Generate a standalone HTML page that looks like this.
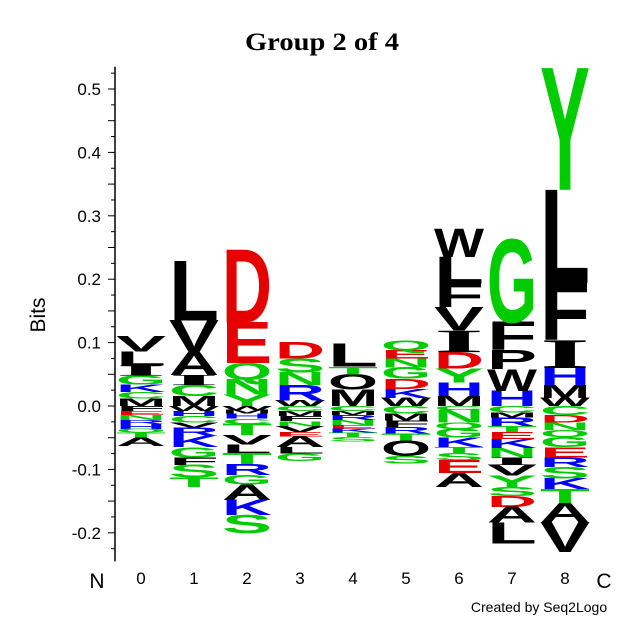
<!DOCTYPE html>
<html><head><meta charset="utf-8"><style>
html,body{margin:0;padding:0;background:#fff}
svg{display:block}
</style></head><body>
<svg id="chart" width="640" height="640" viewBox="0 0 640 640" xmlns="http://www.w3.org/2000/svg">
<text x="245" y="50" textLength="154" lengthAdjust="spacingAndGlyphs" font-family="Liberation Serif, serif" font-weight="bold" font-size="25">Group 2 of 4</text>
<text transform="translate(45,315) rotate(-90)" text-anchor="middle" font-family="Liberation Sans, sans-serif" font-size="21">Bits</text>
<text x="97" y="588" text-anchor="middle" font-family="Liberation Sans, sans-serif" font-size="21">N</text>
<text x="604" y="588" text-anchor="middle" font-family="Liberation Sans, sans-serif" font-size="21">C</text>
<text x="539" y="612" text-anchor="middle" font-family="Liberation Sans, sans-serif" font-size="14">Created by Seq2Logo</text>
<g id="axis"></g>
<g id="logo"></g>
<g id="xlabels"></g>
</svg>
<script>
const positions = ["0","1","2","3","4","5","6","7","8"];
const yTicks = [0.5,0.4,0.3,0.2,0.1,0.0,-0.1,-0.2];
// positive stacks: letters from zero upward, heights in bits
const posLetters = [
 ["M","C","K","G","I","L","V"],
 ["M","C","I","A","V","L"],
 ["Y","N","Q","E","D"],
 ["W","R","N","S","D"],
 ["M","O","T","L"],
 ["W","K","D","G","N","E","Q"],
 ["M","H","Y","D","I","V","F","L","W"],
 ["H","W","P","F","G"],
 ["W","M","H","I","F","L","Y"]
];
const posHeights = [
 [0.012,0.010,0.012,0.014,0.016,0.022,0.024],
 [0.016,0.017,0.016,0.036,0.050,0.094],
 [0.018,0.024,0.026,0.064,0.115],
 [0.009,0.024,0.020,0.022,0.026],
 [0.026,0.024,0.012,0.036],
 [0.013,0.014,0.016,0.018,0.014,0.013,0.015],
 [0.016,0.021,0.022,0.026,0.034,0.037,0.037,0.042,0.044],
 [0.024,0.034,0.030,0.044,0.130],
 [0.013,0.020,0.027,0.044,0.090,0.147,0.192]
];
// negative stacks: letters from zero downward
const negLetters = [
 ["F","E","N","R","H","Q","T","A"],
 ["W","H","C","V","R","K","G","F","S","T"],
 ["W","M","H","C","T","V","L","T","R","G","A","K","S"],
 ["C","M","F","N","V","E","A","L","G"],
 ["C","M","R","N","E","K","T","S"],
 ["C","M","F","R","T","O","S"],
 ["C","N","Q","G","K","T","S","E","A"],
 ["C","M","R","T","E","K","N","I","V","Y","S","D","A","L"],
 ["C","D","N","Q","G","E","R","S","K","T","A","V"]
];
const negHeights = [
 [0.008,0.006,0.008,0.006,0.008,0.006,0.008,0.013],
 [0.008,0.008,0.010,0.008,0.013,0.018,0.016,0.012,0.020,0.015],
 [0.006,0.006,0.008,0.008,0.018,0.015,0.013,0.018,0.017,0.015,0.024,0.024,0.028],
 [0.008,0.008,0.008,0.008,0.009,0.007,0.017,0.010,0.012],
 [0.008,0.006,0.008,0.008,0.006,0.006,0.007,0.007],
 [0.012,0.011,0.010,0.010,0.012,0.024,0.012],
 [0.006,0.020,0.010,0.014,0.015,0.009,0.012,0.020,0.022],
 [0.010,0.008,0.014,0.009,0.011,0.014,0.015,0.012,0.017,0.018,0.014,0.017,0.025,0.033],
 [0.014,0.012,0.012,0.011,0.016,0.016,0.015,0.018,0.017,0.022,0.030,0.047]
];
const colorOf = {D:"#e60000",E:"#e60000",K:"#0000ff",R:"#0000ff",H:"#0000ff",
 N:"#00cc00",Q:"#00cc00",S:"#00cc00",G:"#00cc00",T:"#00cc00",Y:"#00cc00",C:"#00cc00"};
const NS="http://www.w3.org/2000/svg";
const yZero=406, pxPerBit=634, x0=141, dx=53, colW=50;
function yScale(v){return yZero - v*pxPerBit;}
function xScale(i){return x0 + i*dx;}
const axis=document.getElementById('axis');
const logo=document.getElementById('logo');
const xl=document.getElementById('xlabels');
const al=document.createElementNS(NS,'line');


al.setAttribute('x1',115);al.setAttribute('x2',115);
al.setAttribute('y1',yScale(0.535));al.setAttribute('y2',yScale(-0.245));
al.setAttribute('stroke','#000');al.setAttribute('stroke-width','1.5');
axis.appendChild(al);
for(let k=-9;k<=21;k++){
 const v=k*0.025; const y=yScale(v);
 const t=document.createElementNS(NS,'line');
 
 
 const major=(k%2===0);
 t.setAttribute('x1',major?108:111);t.setAttribute('x2',115);
 t.setAttribute('y1',y);t.setAttribute('y2',y);
 t.setAttribute('stroke','#000');t.setAttribute('stroke-width','1');
 axis.appendChild(t);
}
yTicks.forEach(v=>{
 const t=document.createElementNS(NS,'text');
 
 
 t.setAttribute('x',101);t.setAttribute('y',yScale(v)+6);
 t.setAttribute('text-anchor','end');
 t.setAttribute('font-family','Liberation Sans, sans-serif');
 t.setAttribute('font-size','17');
 t.textContent=v.toFixed(1);
 axis.appendChild(t);
});
positions.forEach((p,i)=>{
 const t=document.createElementNS(NS,'text');
 
 
 t.setAttribute('x',xScale(i));t.setAttribute('y',584);
 t.setAttribute('text-anchor','middle');
 t.setAttribute('font-family','Liberation Sans, sans-serif');
 t.setAttribute('font-size','17');
 t.textContent=p;
 xl.appendChild(t);
});
function drawLetter(ch,i,lo,hi){
 const yb=yScale(lo), yt=yScale(hi);
 const h=yb-yt; if(h<=0.2) return;
 const serif=(ch==="I");
 const cap=serif?66.2:68.8;
 const t=document.createElementNS(NS,'text');
 
 
 t.setAttribute('x',0);t.setAttribute('y',0);
 t.setAttribute('font-family',serif?'Liberation Serif, serif':'Liberation Sans, sans-serif');
 t.setAttribute('font-weight','bold');
 t.setAttribute('font-size','100');
 t.setAttribute('textLength',colW);
 t.setAttribute('lengthAdjust','spacingAndGlyphs');
 t.setAttribute('fill',colorOf[ch]||'#000');
 t.setAttribute('transform','translate('+(xScale(i)-colW/2)+','+yb+') scale(1,'+(h/cap)+')');
 t.textContent=ch;
 logo.appendChild(t);
}
positions.forEach((p,i)=>{
 let c=0;
 posLetters[i].forEach((ch,j)=>{const h=posHeights[i][j];drawLetter(ch,i,c,c+h);c+=h;});
 c=0;
 negLetters[i].forEach((ch,j)=>{const h=negHeights[i][j];drawLetter(ch,i,c-h,c);c-=h;});
});
</script>
</body></html>
